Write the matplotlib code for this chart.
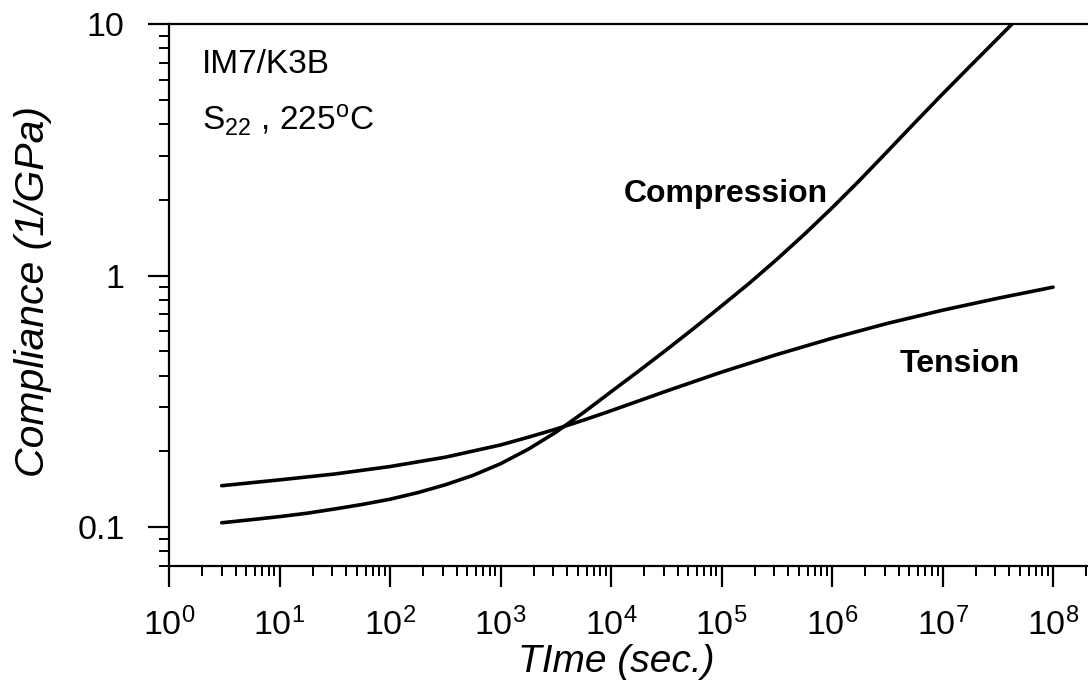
import numpy as np
import matplotlib
matplotlib.use('Agg')
import matplotlib.pyplot as plt
from matplotlib.ticker import LogLocator, FuncFormatter, NullFormatter

plt.rcParams['font.family'] = ['Liberation Sans', 'DejaVu Sans']
plt.rcParams['mathtext.fontset'] = 'custom'
plt.rcParams['mathtext.rm'] = 'Liberation Sans'
plt.rcParams['mathtext.it'] = 'Liberation Sans:italic'
plt.rcParams['mathtext.bf'] = 'Liberation Sans:bold'

# values (time in s, compliance in 1/GPa)
t_comp = [3, 5.6, 10, 17.8, 31.6, 56.2, 100, 178, 316, 562, 1e3, 1778, 3162,
          5623, 1e4, 17783, 31623, 56234, 1e5, 1.78e5, 3.16e5, 5.62e5, 1e6,
          1.78e6, 3.16e6, 5.62e6, 1e7, 1.78e7, 3.16e7, 4.6e7]
c_comp = [0.104, 0.107, 0.110, 0.1135, 0.118, 0.123, 0.129, 0.137, 0.1472,
          0.1604, 0.1785, 0.2038, 0.238, 0.285, 0.345, 0.417, 0.506, 0.617,
          0.757, 0.931, 1.159, 1.459, 1.858, 2.393, 3.11, 4.055, 5.27, 6.81,
          8.77, 10.35]

t_tens = [3, 10, 31.6, 100, 316, 1e3, 1778, 3162, 5623, 1e4, 3.16e4, 1e5,
          3.16e5, 1e6, 3.16e6, 1e7, 3.16e7, 1e8]
c_tens = [0.146, 0.154, 0.1625, 0.174, 0.1895, 0.212, 0.2275, 0.245, 0.266,
          0.290, 0.347, 0.413, 0.485, 0.563, 0.645, 0.728, 0.812, 0.899]

fig = plt.figure(figsize=(10.88, 6.89), dpi=100)
ax = fig.add_axes([169/1088, 123/689, 919/1088, 542/689])

ax.plot(t_comp, c_comp, color='black', lw=2.6, solid_capstyle='round')
ax.plot(t_tens, c_tens, color='black', lw=2.6, solid_capstyle='round')

ax.set_xscale('log')
ax.set_yscale('log')
ax.set_xlim(1, 2.07e8)
ax.set_ylim(0.07, 10)

ax.xaxis.set_major_locator(LogLocator(base=10, numticks=20))
ax.xaxis.set_minor_locator(LogLocator(base=10, subs=np.arange(2, 10), numticks=100))
ax.xaxis.set_minor_formatter(NullFormatter())
ax.yaxis.set_major_locator(LogLocator(base=10, numticks=10))
ax.yaxis.set_minor_locator(LogLocator(base=10, subs=np.arange(2, 10), numticks=100))
ax.yaxis.set_major_formatter(FuncFormatter(lambda v, p: '%g' % v))
ax.yaxis.set_minor_formatter(NullFormatter())

ax.spines['right'].set_visible(False)
for s in ['top', 'left', 'bottom']:
    ax.spines[s].set_linewidth(1.6)

ax.tick_params(which='major', direction='out', length=15, width=1.6, labelsize=24.5)
ax.tick_params(which='minor', direction='out', length=7, width=1.4)
ax.tick_params(axis='x', which='major', pad=15)
ax.tick_params(axis='y', which='major', pad=17)

ax.set_xlabel('TIme (sec.)', fontsize=28, style='italic')
ax.set_ylabel('Compliance (1/GPa)', fontsize=29.5, style='italic')
ax.xaxis.set_label_coords(0.487, -0.143)
ax.yaxis.set_label_coords(-0.127, 0.507)

ax.text(1.99, 6.38, 'IM7/K3B', fontsize=24, va='baseline')
ax.text(2.0, 3.79, r'S$\mathregular{_{22}}$ , 225$\mathregular{^o}$C', fontsize=24, va='baseline')
ax.text(1.09e5, 1.96, 'Compression', fontsize=23, fontweight='bold', ha='center', va='baseline')
ax.text(1.43e7, 0.413, 'Tension', fontsize=23, fontweight='bold', ha='center', va='baseline')

fig.savefig('out.png', dpi=100)
